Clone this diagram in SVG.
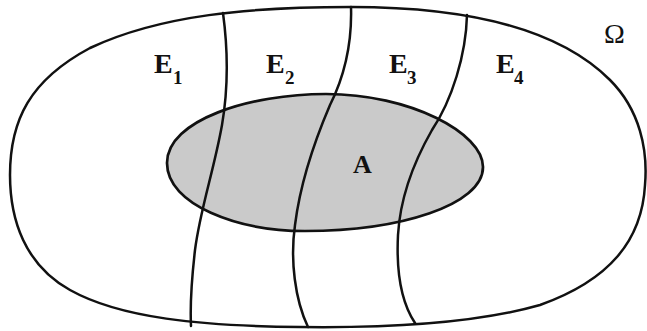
<svg xmlns="http://www.w3.org/2000/svg" width="647" height="331" viewBox="0 0 647 331">
<style>
.ln{fill:none;stroke:#111;stroke-width:2.5;stroke-linecap:round;stroke-linejoin:round}
.lbl{font-family:"Liberation Serif","DejaVu Serif",serif;font-weight:bold;fill:#111}
.big{font-size:28px}
.sub{font-size:19px}
</style>
<rect width="647" height="331" fill="#fff"/>
<g id="set-A">
<path d="M 167,163 C 167,120 250,94 326,94 C 410,94 483,133 483,167 C 483,205 400,231 305,231 C 238,231 167,205 167,163 Z" fill="#cacaca" stroke="#111" stroke-width="2.7"/>
</g>
<g id="omega">
<path class="ln" d="M 351,7 C 470,7 560,30 610,80 C 640,110 648,150 645,185 C 642,240 610,280 540,305 C 470,325 380,328 300,327 C 200,326 120,318 70,290 C 25,265 10,220 10,175 C 10,120 30,80 90,48 C 160,15 250,7 351,7 Z"/>
</g>
<g id="partition">
<path class="ln" d="M 223,13 C 228,50 228,90 222,125 C 214,170 200,210 195,250 C 191,285 190,305 191,326"/>
<path class="ln" d="M 351,7 C 352,40 345,75 330,105 C 315,140 300,185 295,225 C 290,260 295,300 308,327"/>
<path class="ln" d="M 467,15 C 466,55 452,100 432,130 C 412,165 400,200 398,235 C 396,275 403,305 415,323"/>
</g>
<g id="labels">
<text class="lbl big" x="154" y="73">E</text><text class="lbl sub" x="173" y="84">1</text>
<text class="lbl big" x="266" y="73">E</text><text class="lbl sub" x="285" y="84">2</text>
<text class="lbl big" x="389" y="73">E</text><text class="lbl sub" x="407" y="84">3</text>
<text class="lbl big" x="496" y="73">E</text><text class="lbl sub" x="514" y="84">4</text>
<text class="lbl" x="353" y="173" font-size="26">A</text>
<text x="604" y="43" font-size="28" font-family="Liberation Serif, DejaVu Serif, serif" fill="#111">Ω</text>
</g>
</svg>
